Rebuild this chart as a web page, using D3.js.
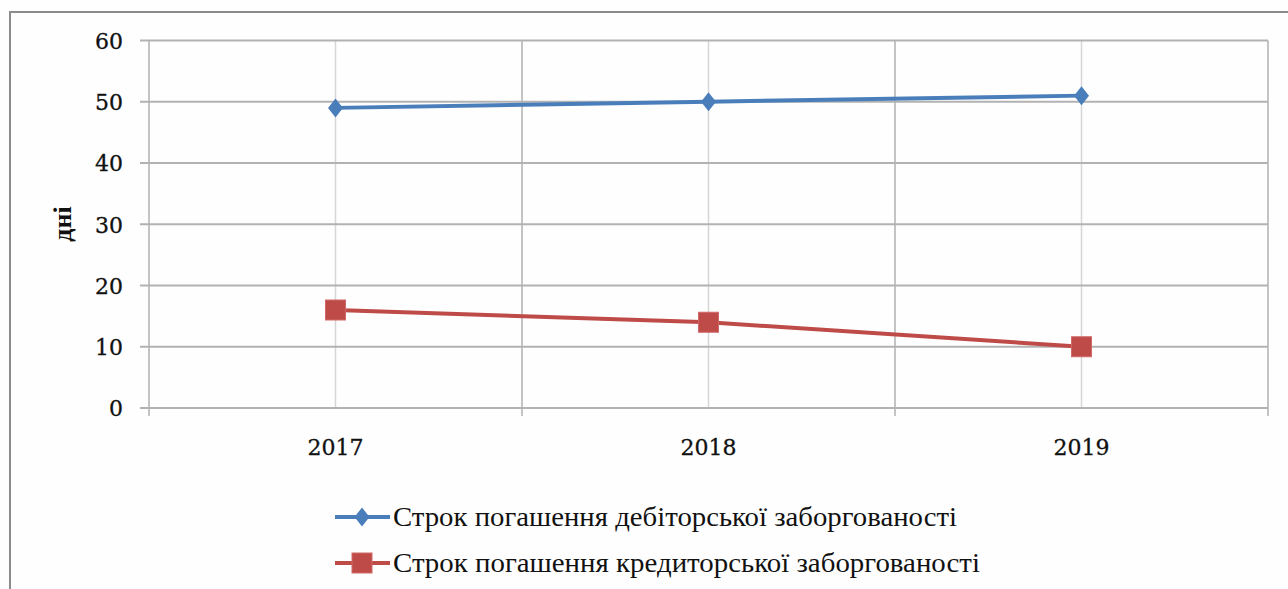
<!DOCTYPE html>
<html>
<head>
<meta charset="utf-8">
<script src="https://cdn.jsdelivr.net/npm/d3@7"></script>
<style>
  html, body { margin: 0; padding: 0; background: #ffffff; }
  svg { display: block; }
</style>
</head>
<body>
<script>
// Data
const years = ["2017", "2018", "2019"];
const receivableDays = [49, 50, 51];
const payableDays = [16, 14, 10];
const yTicks = [0, 10, 20, 30, 40, 50, 60];
const seriesNames = [
  "Строк погашення дебіторської заборгованості",
  "Строк погашення кредиторської заборгованості"
];
const yTitle = "дні";

const W = 1288, H = 589;
const plot = { left: 149, right: 1268, top: 40.5, bottom: 408 };

const svg = d3.select("body").append("svg")
  .attr("width", W).attr("height", H);

svg.append("rect").attr("width", W).attr("height", H).attr("fill", "#fefefe");

// Outer frame (top and left edges visible)
svg.append("path")
  .attr("d", `M10,${H} L10,12 L${W},12`)
  .attr("fill", "none").attr("stroke", "#8c8c8c").attr("stroke-width", 2);

const x = d3.scaleBand().domain(years).range([plot.left, plot.right]).padding(0);
const y = d3.scaleLinear().domain([0, 60]).range([plot.bottom, plot.top]);

const g = svg.append("g");

// Vertical gridlines through category centres
g.selectAll("line.vc").data(years).join("line")
  .attr("x1", d => x(d) + x.bandwidth() / 2).attr("x2", d => x(d) + x.bandwidth() / 2)
  .attr("y1", plot.top).attr("y2", plot.bottom)
  .attr("stroke", "#d6d6d6").attr("stroke-width", 1.5);

// Category boundary lines with ticks below the axis
const bounds = years.map(d => x(d)).concat([x(years[years.length - 1]) + x.bandwidth()]);
g.selectAll("line.vb").data(bounds).join("line")
  .attr("x1", d => d).attr("x2", d => d)
  .attr("y1", plot.top).attr("y2", plot.bottom + 8)
  .attr("stroke", "#c4c4c4").attr("stroke-width", 2);

// Horizontal gridlines with ticks left of the axis
g.selectAll("line.h").data(yTicks).join("line")
  .attr("x1", plot.left - 9).attr("x2", plot.right)
  .attr("y1", d => y(d)).attr("y2", d => y(d))
  .attr("stroke", "#b2b2b2").attr("stroke-width", 2);

// Y axis labels
const yAxis = d3.axisLeft(y).tickValues(yTicks).tickSize(0).tickPadding(0);
const ya = svg.append("g").attr("transform", `translate(123,0)`).call(yAxis);
ya.select(".domain").remove();
ya.selectAll("text")
  .attr("font-family", "'DejaVu Serif', serif").attr("font-size", 22)
  .attr("fill", "#111").attr("stroke", "#111").attr("stroke-width", 0.3)
  .attr("dy", "0.36em");

// X axis labels
const xAxis = d3.axisBottom(x).tickSize(0).tickPadding(0);
const xa = svg.append("g").attr("transform", `translate(0,439)`).call(xAxis);
xa.select(".domain").remove();
xa.selectAll("text")
  .attr("font-family", "'DejaVu Serif', serif").attr("font-size", 22)
  .attr("fill", "#111").attr("stroke", "#111").attr("stroke-width", 0.3)
  .attr("dy", "0.71em");

// Y axis title
svg.append("text")
  .attr("transform", "translate(71,224) rotate(-90)")
  .attr("text-anchor", "middle")
  .attr("font-family", "'Liberation Serif', serif").attr("font-weight", "bold")
  .attr("font-size", 26).attr("fill", "#111")
  .text(yTitle);

// Series
const blue = "#4a7ebb", red = "#be4b48";
const series = [
  { name: seriesNames[0], values: receivableDays, color: blue, marker: "diamond" },
  { name: seriesNames[1], values: payableDays, color: red, marker: "square" }
];

const line = d3.line()
  .x((d, i) => x(years[i]) + x.bandwidth() / 2)
  .y(d => y(d));

function drawMarker(sel, type, color) {
  if (type === "diamond") {
    sel.append("path").attr("d", "M0,-9.5 L7.5,0 L0,9.5 L-7.5,0 Z").attr("fill", color);
  } else {
    sel.append("rect").attr("x", -10).attr("y", -10).attr("width", 20).attr("height", 20)
      .attr("fill", color).attr("stroke", "#d06a68").attr("stroke-width", 1);
  }
}

series.forEach(s => {
  svg.append("path").datum(s.values)
    .attr("d", line).attr("fill", "none")
    .attr("stroke", s.color).attr("stroke-width", 4).attr("stroke-linejoin", "round");
  s.values.forEach((v, i) => {
    const m = svg.append("g")
      .attr("transform", `translate(${x(years[i]) + x.bandwidth() / 2},${y(v)})`);
    drawMarker(m, s.marker, s.color);
  });
});

// Legend
const legendY = [517, 563];
const legendLen = [564, 587];
series.forEach((s, i) => {
  const lg = svg.append("g").attr("transform", `translate(0,${legendY[i]})`);
  lg.append("line").attr("x1", 335).attr("x2", 390).attr("y1", 0).attr("y2", 0)
    .attr("stroke", s.color).attr("stroke-width", 4);
  const m = lg.append("g").attr("transform", "translate(362,0)");
  drawMarker(m, s.marker, s.color);
  lg.append("text")
    .attr("x", 393).attr("y", 9)
    .attr("font-family", "'Liberation Serif', serif").attr("font-size", 27)
    .attr("fill", "#111")
    .attr("textLength", legendLen[i]).attr("lengthAdjust", "spacingAndGlyphs")
    .text(s.name);
});
</script>
</body>
</html>
